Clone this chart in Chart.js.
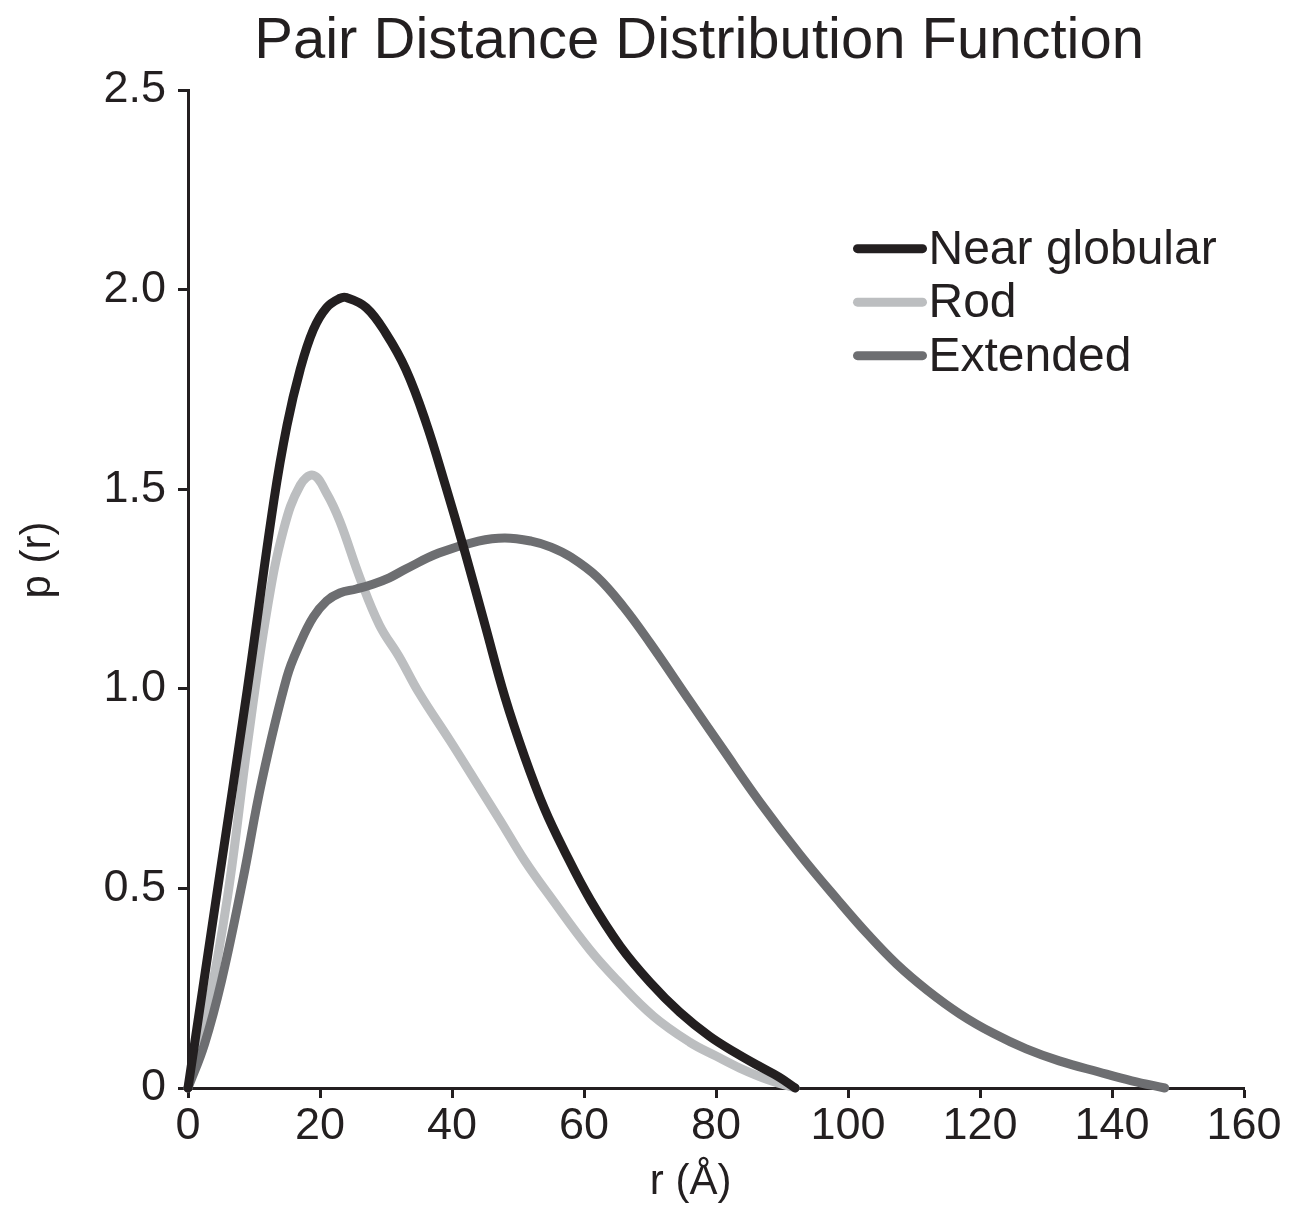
<!DOCTYPE html>
<html>
<head>
<meta charset="utf-8">
<title>Pair Distance Distribution Function</title>
<script src="https://cdn.jsdelivr.net/npm/chart.js@4/dist/chart.umd.min.js"></script>
<style>
  html, body { margin: 0; padding: 0; background: #ffffff; }
  #wrap { width: 1298px; height: 1211px; }
</style>
</head>
<body>
<div id="wrap"><canvas id="pddf" width="1298" height="1211"></canvas></div>
<script>
// valores (r en Å, p(r))
const globR = [0, 4.5, 9, 13, 15, 17, 19, 21, 23, 24, 27, 30, 33, 36, 39, 42, 45, 48, 51, 54, 57, 61, 65.5, 70, 74.5, 79, 83, 86.5, 89.5, 92];
const globP = [0, 0.50, 1.00, 1.47, 1.66, 1.80, 1.90, 1.955, 1.978, 1.98, 1.955, 1.89, 1.80, 1.67, 1.51, 1.34, 1.16, 0.98, 0.83, 0.70, 0.595, 0.47, 0.355, 0.265, 0.19, 0.13, 0.088, 0.055, 0.028, 0];

const rodR = [0, 3, 6, 9, 12, 14.5, 17, 19, 21, 23, 26, 29, 32, 35, 39.7, 43.5, 47.3, 51, 55.3, 60.9, 65, 70.5, 76, 80, 83.6, 88, 92];
const rodP = [0, 0.20, 0.48, 0.86, 1.20, 1.40, 1.51, 1.535, 1.49, 1.42, 1.28, 1.16, 1.08, 0.99, 0.87, 0.77, 0.67, 0.57, 0.47, 0.346, 0.27, 0.18, 0.115, 0.08, 0.05, 0.02, 0];

const extR = [0, 2.5, 5.1, 8.3, 11.2, 15, 17, 19, 21, 23, 25.5, 28, 30.5, 33, 38, 44, 48, 52, 55, 58, 62, 66, 70, 76, 81, 86.7, 92.7, 98.5, 103, 107.4, 112, 117, 122, 127, 132, 138, 143, 148];
const extP = [0, 0.11, 0.27, 0.52, 0.77, 1.03, 1.115, 1.18, 1.22, 1.24, 1.25, 1.262, 1.278, 1.30, 1.34, 1.37, 1.378, 1.37, 1.355, 1.33, 1.28, 1.205, 1.115, 0.97, 0.85, 0.715, 0.585, 0.47, 0.385, 0.31, 0.245, 0.185, 0.137, 0.098, 0.068, 0.04, 0.018, 0];

const seriesNames = ['Near globular', 'Rod', 'Extended'];
const seriesColors = ['#231f20', '#bcbec0', '#6d6e71'];
const xTicks = [0, 20, 40, 60, 80, 100, 120, 140, 160];
const yTicks = [0, 0.5, 1.0, 1.5, 2.0, 2.5];
const chartTitle = 'Pair Distance Distribution Function';
const xTitle = 'r (Å)';
const yTitle = 'p (r)';

const FONT = '"Liberation Sans", Arial, Helvetica, sans-serif';
const INK = '#231f20';

function toPoints(rs, ps) {
  return rs.map((r, i) => ({ x: r, y: ps[i] }));
}

const allR = [globR, rodR, extR];
const allP = [globP, rodP, extP];
const drawOrder = [1, 3, 2];

const datasets = seriesNames.map((name, i) => ({
  label: name,
  data: toPoints(allR[i], allP[i]),
  borderColor: seriesColors[i],
  backgroundColor: seriesColors[i],
  borderWidth: 9,
  borderCapStyle: 'round',
  borderJoinStyle: 'round',
  pointRadius: 0,
  fill: false,
  tension: 0.4,
  clip: false,
  order: drawOrder[i]
}));

// titulos y leyenda dibujados a mano, el original no los centra sobre los ejes
const decorations = {
  id: 'decorations',
  afterDatasetsDraw(chart) {
    const ctx = chart.ctx;
    const a = chart.chartArea;
    const w = a.right - a.left;
    const h = a.bottom - a.top;
    ctx.save();

    ctx.fillStyle = INK;
    ctx.font = '58px ' + FONT;
    ctx.textAlign = 'center';
    ctx.textBaseline = 'alphabetic';
    ctx.fillText(chartTitle, a.left + w * 0.484, 58);

    ctx.font = '42px ' + FONT;
    ctx.textBaseline = 'middle';
    ctx.fillText(xTitle, a.left + w * 0.476, a.bottom + 94);

    ctx.save();
    ctx.translate(a.left - 150, a.top + h * 0.471);
    ctx.rotate(-Math.PI / 2);
    ctx.fillText(yTitle, 0, 0);
    ctx.restore();

    const x0 = a.left + w * 0.634;
    const x1 = x0 + 65;
    let y = a.top + h * 0.159;
    ctx.font = '48px ' + FONT;
    ctx.textAlign = 'left';
    chart.data.datasets.forEach(ds => {
      ctx.strokeStyle = ds.borderColor;
      ctx.lineWidth = 9;
      ctx.lineCap = 'round';
      ctx.beginPath();
      ctx.moveTo(x0, y);
      ctx.lineTo(x1, y);
      ctx.stroke();
      ctx.fillStyle = INK;
      ctx.fillText(ds.label, x1 + 6, y + 2);
      y += 53.5;
    });
    ctx.restore();
  }
};

const ctx = document.getElementById('pddf').getContext('2d');
const chart = new Chart(ctx, {
  type: 'line',
  data: { datasets: datasets },
  plugins: [decorations],
  options: {
    responsive: false,
    animation: false,
    layout: { padding: { left: 0, right: 54, top: 90, bottom: 0 } },
    plugins: {
      legend: { display: false },
      tooltip: { enabled: false },
      title: { display: false }
    },
    scales: {
      x: {
        type: 'linear',
        min: 0,
        max: 160,
        afterBuildTicks: s => { s.ticks = xTicks.map(v => ({ value: v })); },
        afterFit: s => { s.height = 123; },
        ticks: {
          color: INK,
          font: { family: FONT, size: 45 },
          padding: 2,
          maxRotation: 0,
          autoSkip: false
        },
        grid: {
          drawOnChartArea: false,
          drawTicks: true,
          tickLength: 10,
          tickWidth: 3,
          tickColor: INK
        },
        border: { display: true, color: INK, width: 3 }
      },
      y: {
        type: 'linear',
        min: 0,
        max: 2.5,
        afterBuildTicks: s => { s.ticks = yTicks.map(v => ({ value: v })); },
        afterFit: s => { s.width = 188; },
        ticks: {
          color: INK,
          font: { family: FONT, size: 45 },
          padding: 12,
          callback: v => (v === 0 ? '0' : v.toFixed(1))
        },
        grid: {
          drawOnChartArea: false,
          drawTicks: true,
          tickLength: 10,
          tickWidth: 3,
          tickColor: INK
        },
        border: { display: true, color: INK, width: 3 }
      }
    }
  }
});
</script>
</body>
</html>
